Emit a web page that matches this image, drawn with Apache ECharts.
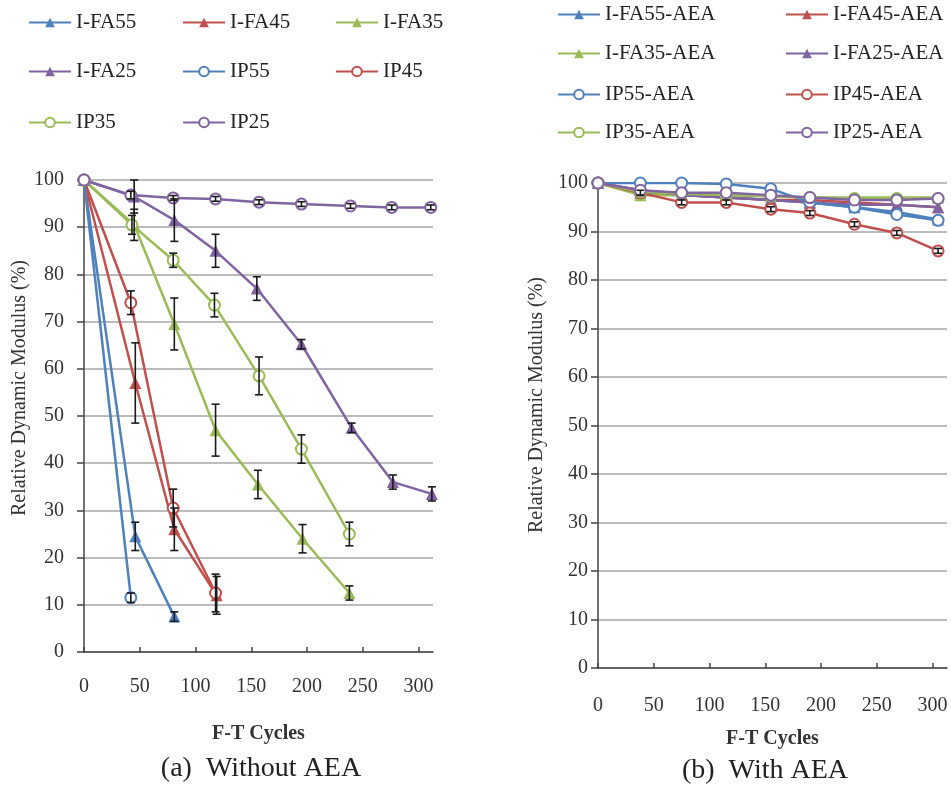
<!DOCTYPE html>
<html><head><meta charset="utf-8">
<script src="https://cdn.jsdelivr.net/npm/echarts@6/dist/echarts.min.js"></script>
<style>html,body{margin:0;padding:0;background:#fff}#c{width:951px;height:789px}</style>
</head><body><div id="c"></div>
<script>
// ---------- data: panel (a) without AEA ----------
var xTicks = [0, 50, 100, 150, 200, 250, 300];
var yTicks = [0, 10, 20, 30, 40, 50, 60, 70, 80, 90, 100];

var fa55X = [0, 46, 81];
var fa55Y = [100, 24.5, 7.5];
var fa55E = [0, 3, 1];

var fa45X = [0, 46, 81, 119];
var fa45Y = [100, 57, 26, 12];
var fa45E = [0, 8.5, 4.5, 4];

var fa35X = [0, 45, 81, 118, 156, 196, 238];
var fa35Y = [100, 90.5, 69.5, 47, 35.5, 24, 12.5];
var fa35E = [0, 3.3, 5.5, 5.5, 3, 3, 1.5];

var fa25X = [0, 45, 81, 118, 155, 195, 240, 277, 312];
var fa25Y = [100, 96.5, 91.5, 85, 77, 65.2, 47.5, 36, 33.5];
var fa25E = [0, 3.5, 4.5, 3.5, 2.5, 1, 1, 1.5, 1.5];

var ip55X = [0, 42];
var ip55Y = [100, 11.5];
var ip55E = [0, 1];

var ip45X = [0, 42, 80, 118];
var ip45Y = [100, 74, 30.5, 12.5];
var ip45E = [0, 2.5, 4, 4];

var ip35X = [0, 43, 80, 117, 157, 195, 238];
var ip35Y = [100, 90.5, 83, 73.5, 58.5, 43, 25];
var ip35E = [0, 2, 1.5, 2.5, 4, 3, 2.5];

var ip25X = [0, 42, 80, 118, 157, 195, 239, 276, 311];
var ip25Y = [100, 96.8, 96.2, 96, 95.3, 94.9, 94.5, 94.2, 94.2];
var ip25E = [0, 0.8, 0.5, 0.5, 0.5, 0.5, 0.5, 0.5, 0.5];

// ---------- data: panel (b) with AEA ----------
var aeaX = [0, 38, 75, 115, 155, 190, 230, 268, 305];
var fa55aY = [100, 98, 97.5, 97, 96.5, 96, 95, 94, 92.5];
var fa45aY = [100, 98.5, 97.5, 97, 96.5, 96.5, 96, 95.5, 95];
var fa35aY = [100, 97.5, 97.5, 97.5, 97.2, 97, 97, 97, 97];
var fa25aY = [100, 98.5, 97.5, 97, 96.5, 96, 95.5, 95.5, 95];
var ip55aY = [100, 100, 100, 99.8, 98.8, 96, 95, 93.5, 92.3];
var ip45aY = [100, 98, 96, 96, 94.6, 93.8, 91.5, 89.7, 86];
var ip35aY = [100, 98.2, 97.8, 97.5, 97.3, 97, 96.8, 96.8, 96.8];
var ip25aY = [100, 98.5, 98, 98, 97.5, 97, 96.5, 96.5, 96.8];
var ip45aE = [0, 0.5, 0.5, 0.5, 0.5, 0.5, 0.5, 0.5, 0.5];

// ---------- styling ----------
var BLUE = '#4f81bd', RED = '#c0504d', GREEN = '#9bbb59', PURPLE = '#8064a2';
var FONT = '"Liberation Serif", "DejaVu Serif", serif';

function zip(xs, ys) { return xs.map(function (x, i) { return [x, ys[i]]; }); }
function zip3(xs, ys, es) { return xs.map(function (x, i) { return [x, ys[i], es[i]]; }); }

function lineSeries(name, xs, ys, color, tri, gi) {
  return {
    type: 'line', name: name, xAxisIndex: gi, yAxisIndex: gi,
    data: zip(xs, ys),
    symbol: tri ? 'triangle' : 'emptyCircle',
    symbolSize: tri ? 12 : 11,
    lineStyle: { color: color, width: 2.5 },
    itemStyle: { color: color, borderColor: color, borderWidth: tri ? 0 : 2.5 },
    color: color,
    z: 3, animation: false
  };
}
function errSeries(xs, ys, es, gi) {
  return {
    type: 'custom', xAxisIndex: gi, yAxisIndex: gi, silent: true, z: 5, animation: false,
    data: zip3(xs, ys, es),
    encode: { x: 0, y: 1 },
    renderItem: function (params, api) {
      var x = api.value(0), y = api.value(1), e = api.value(2);
      if (!e) return null;
      var top = api.coord([x, y + e]), bot = api.coord([x, y - e]);
      var w = 4;
      var st = { stroke: '#1a1a1a', lineWidth: 1.6 };
      return { type: 'group', children: [
        { type: 'line', shape: { x1: top[0], y1: top[1], x2: bot[0], y2: bot[1] }, style: st },
        { type: 'line', shape: { x1: top[0] - w, y1: top[1], x2: top[0] + w, y2: top[1] }, style: st },
        { type: 'line', shape: { x1: bot[0] - w, y1: bot[1], x2: bot[0] + w, y2: bot[1] }, style: st }
      ]};
    }
  };
}

function xAxisCfg(gi, gap, margin) {
  return {
    type: 'value', gridIndex: gi, min: 0, max: 313,
    name: 'F-T Cycles', nameLocation: 'middle', nameGap: gap,
    nameTextStyle: { fontFamily: FONT, fontSize: 20, fontWeight: 'bold', color: '#333' },
    axisLine: { lineStyle: { color: '#444', width: 1.5 } },
    axisTick: { show: true, customValues: xTicks, length: 5, inside: true, lineStyle: { color: '#444', width: 1.5 } },
    axisLabel: { customValues: xTicks, fontFamily: FONT, fontSize: 20, color: '#333', margin: margin },
    splitLine: { show: false }
  };
}
function yAxisCfg(gi, margin) {
  return {
    type: 'value', gridIndex: gi, min: 0, max: 100, interval: 10,
    axisLine: { show: true, lineStyle: { color: '#444', width: 1.5 } },
    axisTick: { show: true, length: 7, lineStyle: { color: '#444', width: 1.5 } },
    axisLabel: { fontFamily: FONT, fontSize: 20, color: '#333', margin: margin },
    splitLine: { show: true, lineStyle: { color: '#a6a6a6', width: 1.5 } }
  };
}

var leftNames = ['I-FA55', 'I-FA45', 'I-FA35', 'I-FA25', 'IP55', 'IP45', 'IP35', 'IP25'];
var rightNames = ['I-FA55-AEA', 'I-FA45-AEA', 'I-FA35-AEA', 'I-FA25-AEA', 'IP55-AEA', 'IP45-AEA', 'IP35-AEA', 'IP25-AEA'];

var legends = [];
var lCols = [28, 182, 335], lRows = [12, 61, 112];
leftNames.forEach(function (n, i) {
  legends.push({ data: [n], left: lCols[i % 3], top: lRows[Math.floor(i / 3)] });
});
var rCols = [557, 785], rRows = [4, 43, 84, 122];
rightNames.forEach(function (n, i) {
  legends.push({ data: [n], left: rCols[i % 2], top: rRows[Math.floor(i / 2)] });
});
legends.forEach(function (l) {
  l.padding = 0; l.itemWidth = 42; l.itemHeight = 12; l.itemGap = 0;
  l.textStyle = { fontFamily: FONT, fontSize: 21, color: '#222' };
  l.selectedMode = false;
});

var series = [
  lineSeries(leftNames[0], fa55X, fa55Y, BLUE, true, 0),
  lineSeries(leftNames[1], fa45X, fa45Y, RED, true, 0),
  lineSeries(leftNames[2], fa35X, fa35Y, GREEN, true, 0),
  lineSeries(leftNames[3], fa25X, fa25Y, PURPLE, true, 0),
  lineSeries(leftNames[4], ip55X, ip55Y, BLUE, false, 0),
  lineSeries(leftNames[5], ip45X, ip45Y, RED, false, 0),
  lineSeries(leftNames[6], ip35X, ip35Y, GREEN, false, 0),
  lineSeries(leftNames[7], ip25X, ip25Y, PURPLE, false, 0),
  errSeries(fa55X, fa55Y, fa55E, 0),
  errSeries(fa45X, fa45Y, fa45E, 0),
  errSeries(fa35X, fa35Y, fa35E, 0),
  errSeries(fa25X, fa25Y, fa25E, 0),
  errSeries(ip55X, ip55Y, ip55E, 0),
  errSeries(ip45X, ip45Y, ip45E, 0),
  errSeries(ip35X, ip35Y, ip35E, 0),
  errSeries(ip25X, ip25Y, ip25E, 0),
  lineSeries(rightNames[0], aeaX, fa55aY, BLUE, true, 1),
  lineSeries(rightNames[1], aeaX, fa45aY, RED, true, 1),
  lineSeries(rightNames[2], aeaX, fa35aY, GREEN, true, 1),
  lineSeries(rightNames[3], aeaX, fa25aY, PURPLE, true, 1),
  lineSeries(rightNames[4], aeaX, ip55aY, BLUE, false, 1),
  lineSeries(rightNames[5], aeaX, ip45aY, RED, false, 1),
  lineSeries(rightNames[6], aeaX, ip35aY, GREEN, false, 1),
  lineSeries(rightNames[7], aeaX, ip25aY, PURPLE, false, 1),
  errSeries(aeaX, ip45aY, ip45aE, 1)
];

var yName = 'Relative Dynamic Modulus (%)';
var chart = echarts.init(document.getElementById('c'), null, { renderer: 'canvas' });
chart.setOption({
  backgroundColor: '#fff',
  animation: false,
  legend: legends,
  grid: [
    { left: 84, top: 180, width: 349, height: 472 },
    { left: 598, top: 183, width: 349, height: 485 }
  ],
  xAxis: [xAxisCfg(0, 72, 25), xAxisCfg(1, 61, 28)],
  yAxis: [yAxisCfg(0, 20), yAxisCfg(1, 10)],
  series: series,
  graphic: [
    { type: 'text', x: 20, y: 388, rotation: Math.PI / 2, style: { text: yName, font: '20px ' + FONT, fill: '#333', textAlign: 'center', textVerticalAlign: 'middle' } },
    { type: 'text', x: 537, y: 405, rotation: Math.PI / 2, style: { text: yName, font: '20px ' + FONT, fill: '#333', textAlign: 'center', textVerticalAlign: 'middle' } },
    { type: 'text', x: 261, y: 769, style: { text: '(a)  Without AEA', font: '28px ' + FONT, fill: '#222', textAlign: 'center', textVerticalAlign: 'middle' } },
    { type: 'text', x: 765, y: 771, style: { text: '(b)  With AEA', font: '28px ' + FONT, fill: '#222', textAlign: 'center', textVerticalAlign: 'middle' } }
  ]
});
</script>
</body></html>
